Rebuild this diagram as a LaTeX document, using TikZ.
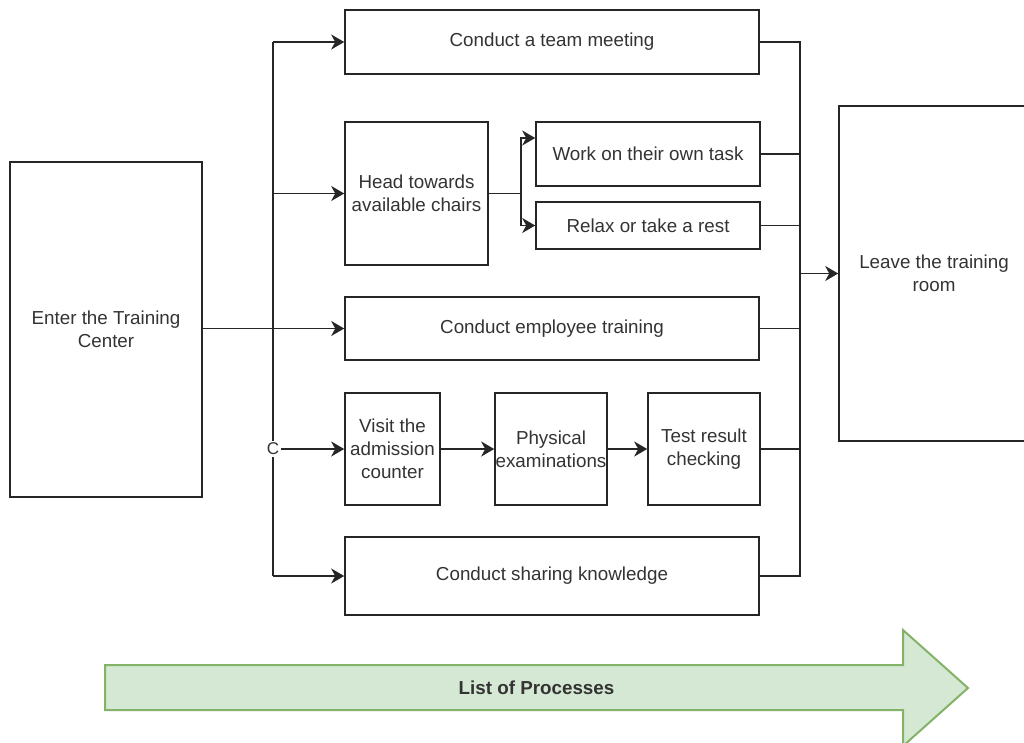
\documentclass[tikz,border=0pt]{standalone}
\usepackage{fontspec}
\setmainfont{Liberation Sans}
\usetikzlibrary{arrows.meta,calc}
\definecolor{ink}{HTML}{333333}
\definecolor{edge}{HTML}{262626}
\definecolor{procfill}{HTML}{D5E8D4}
\definecolor{procline}{HTML}{82B366}

\begin{document}
\begin{tikzpicture}[x=1pt,y=-1pt,
  box/.style={draw=edge, line width=1.6pt, rectangle, inner sep=0pt,
    align=center, text=ink, font=\fontsize{18.8}{22.8}\selectfont},
  flow/.style={draw=edge, line width=1.8pt,
    -{Stealth[length=13pt,width=15pt,inset=4pt]}},
  wire/.style={draw=edge, line width=1.8pt},
  clabel/.style={fill=white, inner sep=1.5pt, text=ink,
    font=\fontsize{17}{20}\selectfont}]

\useasboundingbox (0,0) rectangle (1024,742);
\clip (0,0) rectangle (1024,742);

% process boxes
\node[box, minimum width=192pt, minimum height=335pt] (enter) at (106,329.5) {Enter the Training\\Center};
\node[box, minimum width=414pt, minimum height=64pt] (team) at (552,42) {Conduct a team meeting};
\node[box, minimum width=143pt, minimum height=143pt] (head) at (416.5,193.5) {Head towards\\available chairs};
\node[box, minimum width=224pt, minimum height=64pt] (work) at (648,154) {Work on their own task};
\node[box, minimum width=224pt, minimum height=47pt] (relax) at (648,225.5) {Relax or take a rest};
\node[box, minimum width=414pt, minimum height=63pt] (employee) at (552,328.5) {Conduct employee training};
\node[box, minimum width=95pt, minimum height=112pt] (visit) at (392.5,449) {Visit the\\admission\\counter};
\node[box, minimum width=112pt, minimum height=112pt] (phys) at (551,449) {Physical\\examinations};
\node[box, minimum width=112pt, minimum height=112pt] (test) at (704,449) {Test result\\checking};
\node[box, minimum width=414pt, minimum height=78pt] (share) at (552,576) {Conduct sharing knowledge};
\node[box, minimum width=190pt, minimum height=335pt] (leave) at (934,273.5) {Leave the training\\room};

% junctions of the two buses
\coordinate (jL) at (273,328.5);
\coordinate (jR) at (800,273.5);

% left bus and its branches
\draw[wire] (jL |- team.west) -- (jL |- share.west);
\draw[wire] (enter.east |- employee.west) -- (jL);
\draw[flow] (jL) -- (employee.west);
\draw[flow] (jL |- team.west) -- (team.west);
\draw[flow] (jL |- head.west) -- (head.west);
\draw[flow] (jL |- share.west) -- (share.west);
\draw[flow] (jL |- visit.west) node[clabel] (cmark) {C} -- (visit.west);

% inner chains
\draw[flow] (head.east) -- ++(32,0) |- ($(work.west)+(0,-16)$);
\draw[flow] (head.east) -- ++(32,0) |- (relax.west);
\draw[flow] (visit.east) -- (phys.west);
\draw[flow] (phys.east) -- (test.west);

% right bus
\draw[wire] (team.east) -- (jR |- team.east) -- (jR |- share.east) -- (share.east);
\draw[wire] (work.east) -- (jR |- work.east);
\draw[wire] (relax.east) -- (jR |- relax.east);
\draw[wire] (employee.east) -- (jR |- employee.east);
\draw[wire] (test.east) -- (jR |- test.east);
\draw[flow] (jR) -- (leave.west |- jR);

% banner arrow
\path[fill=procfill, draw=procline, line width=2pt, line join=miter]
  (105,665) -- (903,665) -- (903,630) -- (968,688) -- (903,746) -- (903,710) -- (105,710) -- cycle;
\node[text=ink, font=\bfseries\fontsize{18.8}{22.8}\selectfont] (plist) at (536.5,688) {List of Processes};

\end{tikzpicture}
\end{document}
